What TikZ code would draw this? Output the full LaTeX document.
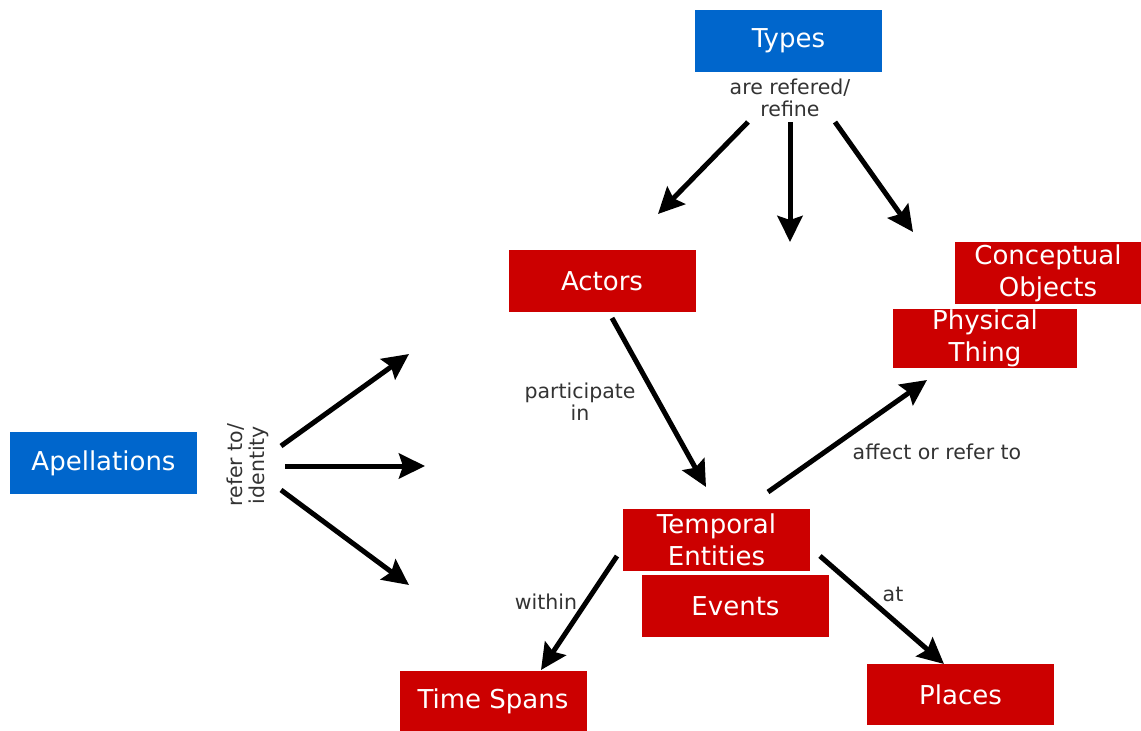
\documentclass[tikz,border=0pt]{standalone}
\usepackage{fontspec}
\setmainfont{DejaVu Sans}
\usetikzlibrary{arrows.meta}
\definecolor{cblue}{HTML}{0066CC}
\definecolor{cred}{HTML}{CC0000}
\definecolor{ctext}{HTML}{333333}
\begin{document}
\begin{tikzpicture}[x=1pt,y=-1pt,
  boxbase/.style={minimum width=187pt,minimum height=62pt,inner sep=0pt,text=white,align=center,font=\fontsize{26}{32}\selectfont},
  bluebox/.style={boxbase,fill=cblue},
  redbox/.style={boxbase,fill=cred},
  lbl/.style={text=ctext,align=center,inner sep=0pt,font=\fontsize{20.5}{22}\selectfont},
  arr/.style={line width=5pt,-{Stealth[length=26pt,width=25pt,inset=4pt]}}]
\useasboundingbox (0,0) rectangle (1141,731);
\fill[white] (0,0) rectangle (1141,731);
% boxes
\node[bluebox] (types) at (788.5,41) {Types};
\node[redbox] (actors) at (602,281) {Actors};
\node[redbox] (concept) at (1048,273) {Conceptual\\Objects};
\node[redbox,minimum width=184pt,minimum height=59pt] (physical) at (985,338.5) {Physical\\Thing};
\node[bluebox] (apell) at (103.5,463) {Apellations};
\node[redbox] (temporal) at (716.5,540) {Temporal\\Entities};
\node[redbox] (events) at (735.5,606) {Events};
\node[redbox,minimum height=60pt] (timespans) at (493,701) {Time Spans};
\node[redbox,minimum height=61pt] (places) at (960.5,694.5) {Places};
% labels
\node[lbl] (lref) at (790,98) {are refered/\\refine};
\node[lbl] (lpart) at (580,402) {participate\\in};
\node[lbl] (laff) at (937,452) {affect or refer to};
\node[lbl] (lwithin) at (546,602) {within};
\node[lbl] (lat) at (893,594) {at};
\node[lbl,rotate=90] (lid) at (248,465) {refer to/\\identity};
% coordinates
\coordinate (t1s) at (748,122); \coordinate (t1e) at (658,214);
\coordinate (t2s) at (790,122); \coordinate (t2e) at (790,242);
\coordinate (t3s) at (835,122); \coordinate (t3e) at (913,232);
\coordinate (a1s) at (612,318); \coordinate (a1e) at (706,487);
\coordinate (p1s) at (768,492); \coordinate (p1e) at (927,380);
\coordinate (w1s) at (617,556); \coordinate (w1e) at (541,670);
\coordinate (s1s) at (820,556); \coordinate (s1e) at (944,664);
\coordinate (i1s) at (281,446); \coordinate (i1e) at (409,354);
\coordinate (i2s) at (285,466); \coordinate (i2e) at (425,466);
\coordinate (i3s) at (281,490); \coordinate (i3e) at (409,585);
% arrows
\draw[arr] (t1s) -- (t1e);
\draw[arr] (t2s) -- (t2e);
\draw[arr] (t3s) -- (t3e);
\draw[arr] (a1s) -- (a1e);
\draw[arr] (p1s) -- (p1e);
\draw[arr] (w1s) -- (w1e);
\draw[arr] (s1s) -- (s1e);
\draw[arr] (i1s) -- (i1e);
\draw[arr] (i2s) -- (i2e);
\draw[arr] (i3s) -- (i3e);
\end{tikzpicture}
\end{document}
